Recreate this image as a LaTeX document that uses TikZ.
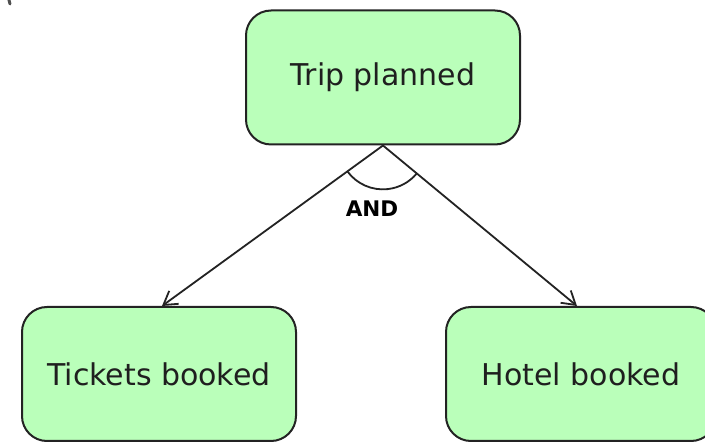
\documentclass[tikz,border=0pt]{standalone}
\usepackage{fontspec}
\setmainfont{DejaVu Sans}
\usetikzlibrary{arrows.meta,calc}
\definecolor{goalfill}{RGB}{186,255,186}
\definecolor{goalline}{RGB}{35,35,35}
\tikzset{
  goal/.style={draw=goalline, line width=2pt, fill=goalfill, rounded corners=25pt,
    minimum width=274pt, minimum height=134pt, inner sep=0pt,
    font=\fontsize{30}{36}\selectfont, text=black!88},
  refine/.style={draw=goalline, line width=1.8pt,
    -{Straight Barb[length=13pt,width=16pt,line width=1.8pt]}},
  andlabel/.style={font=\bfseries\fontsize{21.5}{26}\selectfont, text=black}
}
\begin{document}
\begin{tikzpicture}[x=1pt,y=1pt]
  \useasboundingbox (0,0) rectangle (705,442);
  \clip (0,0) rectangle (705,442);
  \fill[white] (0,0) rectangle (705,442);

  % goals
  \node[goal] (trip)    at (383,364.5) {Trip planned};
  \node[goal] (tickets) at (159,68)    {Tickets booked};
  \node[goal, minimum width=270pt] (hotel) at (581,68) {Hotel booked};

  % AND-refinement
  \coordinate (apex) at (trip.south);
  \coordinate (tipL) at ($(tickets.north)+(3,0)$);
  \coordinate (tipR) at ($(hotel.north)+(-4,0)$);
  \draw[refine] (apex) -- (tipL);
  \draw[refine] (apex) -- (tipR);
  \draw[goalline, line width=1.8pt]
    ($(apex)!44pt!(tipL)$) arc[start angle=216.2, end angle=320.5, radius=44pt];
  \node[andlabel] (and) at (372,233) {AND};

  % stray stroke in the corner
  \draw[goalline!80, line width=3pt, line cap=round] (8,446) -- (10,438);
\end{tikzpicture}
\end{document}
